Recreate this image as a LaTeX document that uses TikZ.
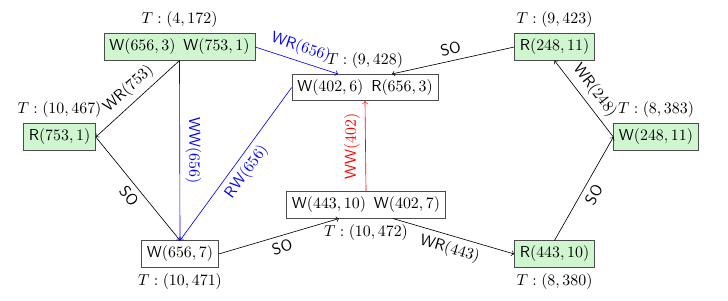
\documentclass[tikz,border=0pt]{standalone}
\usepackage{tikz}

\definecolor{evgreen}{RGB}{208,246,208}
\newcommand{\evop}[2]{\textsf{#1}$(#2)$}
\newcommand{\evts}[2]{$T:(#1,#2)$}

\begin{document}
\begin{tikzpicture}[x=0.63pt,y=0.63pt,
    ev/.style={draw=black!70,fill=white,inner sep=3.33pt},
    rdev/.style={ev,fill=evgreen}]
      \useasboundingbox (0,0) rectangle (728,-300);
      % events
      \node[rdev,label={above:\evts{4}{172}}] (A) at (179.5,-47) {\evop{W}{656,3}\enspace\evop{W}{753,1}};
      \node[rdev,label={above:\evts{10}{467}}] (B) at (59.5,-137) {\evop{R}{753,1}};
      \node[ev,label={below:\evts{10}{471}}] (C) at (180,-254) {\evop{W}{656,7}};
      \node[ev,label={above:\evts{9}{428}}] (D) at (365,-87.5) {\evop{W}{402,6}\enspace\evop{R}{656,3}};
      \node[ev,label={below:\evts{10}{472}}] (E) at (366,-205) {\evop{W}{443,10}\enspace\evop{W}{402,7}};
      \node[rdev,label={above:\evts{9}{423}}] (F) at (554.5,-47) {\evop{R}{248,11}};
      \node[rdev,label={above:\evts{8}{383}}] (G) at (656,-137) {\evop{W}{248,11}};
      \node[rdev,label={below:\evts{8}{380}}] (H) at (554.5,-254) {\evop{R}{443,10}};
      % edges
      \draw[->] (A.south) -- node[sloped,above] {\evop{WR}{753}} (B.east);
      \draw[->] (B.east) -- node[sloped,below] {\textsf{SO}} (C.north);
      \draw[->,blue] (A.south) -- node[sloped,above] {\evop{WW}{656}} (C.north);
      \draw[->,blue] (D.west) -- node[sloped,below] {\evop{RW}{656}} (C.north);
      \draw[->,blue] (A.east) -- node[sloped,above] {\evop{WR}{656}} ([xshift=-17pt]D.north);
      \draw[->] (F.west) -- node[sloped,above] {\textsf{SO}} ([xshift=17pt]D.north);
      \draw[->,red] (E.north) -- node[rotate=90,anchor=south] {\evop{WW}{402}} (D.south);
      \draw[->] (C.east) -- node[sloped,below] {\textsf{SO}} ([xshift=-17pt]E.south);
      \draw[->] ([xshift=17pt]E.south) -- node[sloped,below] {\evop{WR}{443}} (H.west);
      \draw[->] (H.north) -- node[sloped,below] {\textsf{SO}} (G.west);
      \draw[->] (G.west) -- node[sloped,above] {\evop{WR}{248}} (F.south);
\end{tikzpicture}
\end{document}
